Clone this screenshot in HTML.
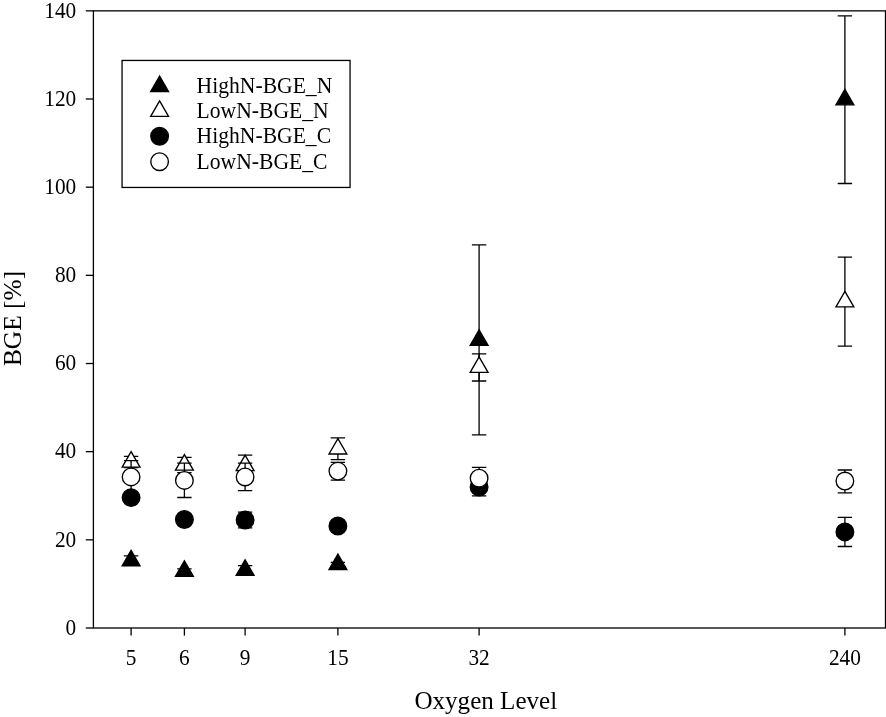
<!DOCTYPE html>
<html lang="en">
<head>
<meta charset="utf-8">
<title>BGE vs Oxygen Level</title>
<style>
html,body{margin:0;padding:0;background:#fff;}
body{width:886px;height:717px;overflow:hidden;font-family:"Liberation Serif",serif;}
svg{display:block;}
</style>
</head>
<body>
<svg width="886" height="717" viewBox="0 0 886 717">
<rect x="0" y="0" width="886" height="717" fill="#fff"/>
<g fill="none" stroke="#000" stroke-width="1.3" stroke-linecap="butt" stroke-linejoin="miter">
<rect x="93.4" y="10.85" width="792.1" height="617.15"/>
<line x1="85.80" y1="628.00" x2="93.4" y2="628.00"/>
<line x1="85.80" y1="539.84" x2="93.4" y2="539.84"/>
<line x1="85.80" y1="451.67" x2="93.4" y2="451.67"/>
<line x1="85.80" y1="363.51" x2="93.4" y2="363.51"/>
<line x1="85.80" y1="275.34" x2="93.4" y2="275.34"/>
<line x1="85.80" y1="187.18" x2="93.4" y2="187.18"/>
<line x1="85.80" y1="99.01" x2="93.4" y2="99.01"/>
<line x1="85.80" y1="10.85" x2="93.4" y2="10.85"/>
<line x1="131.1" y1="628.0" x2="131.1" y2="635.60"/>
<line x1="184.4" y1="628.0" x2="184.4" y2="635.60"/>
<line x1="245.1" y1="628.0" x2="245.1" y2="635.60"/>
<line x1="337.9" y1="628.0" x2="337.9" y2="635.60"/>
<line x1="479.1" y1="628.0" x2="479.1" y2="635.60"/>
<line x1="844.9" y1="628.0" x2="844.9" y2="635.60"/>
</g>
<g fill="none" stroke="#000" stroke-width="1.3" stroke-linejoin="miter">
<path d="M131.10 555.90V565.30M123.90 555.90H138.30M123.90 565.30H138.30"/>
<path d="M184.40 568.80V573.40M177.20 568.80H191.60M177.20 573.40H191.60"/>
<path d="M245.10 565.60V574.60M237.90 565.60H252.30M237.90 574.60H252.30"/>
<path d="M337.90 562.40V566.40M330.70 562.40H345.10M330.70 566.40H345.10"/>
<path d="M479.10 244.90V434.80M471.90 244.90H486.30M471.90 434.80H486.30"/>
<path d="M844.90 15.90V183.50M837.70 15.90H852.10M837.70 183.50H852.10"/>
<path d="M131.10 550.30L140.02 565.75H122.18Z" fill="#000" stroke-width="1.35"/>
<path d="M184.40 560.80L193.32 576.25H175.48Z" fill="#000" stroke-width="1.35"/>
<path d="M245.10 559.80L254.02 575.25H236.18Z" fill="#000" stroke-width="1.35"/>
<path d="M337.90 554.10L346.82 569.55H328.98Z" fill="#000" stroke-width="1.35"/>
<path d="M479.10 329.90L488.02 345.35H470.18Z" fill="#000" stroke-width="1.35"/>
<path d="M844.90 89.40L853.82 104.85H835.98Z" fill="#000" stroke-width="1.35"/>
<path d="M131.10 456.40V467.60M123.90 456.40H138.30M123.90 467.60H138.30"/>
<path d="M184.40 457.40V472.60M177.20 457.40H191.60M177.20 472.60H191.60"/>
<path d="M245.10 455.20V475.80M237.90 455.20H252.30M237.90 475.80H252.30"/>
<path d="M337.90 437.90V459.60M330.70 437.90H345.10M330.70 459.60H345.10"/>
<path d="M479.10 353.95V381.00M471.90 353.95H486.30M471.90 381.00H486.30"/>
<path d="M844.90 257.10V346.20M837.70 257.10H852.10M837.70 346.20H852.10"/>
<path d="M131.10 451.70L140.02 467.15H122.18Z" fill="#fff" stroke-width="1.35"/>
<path d="M184.40 454.70L193.32 470.15H175.48Z" fill="#fff" stroke-width="1.35"/>
<path d="M245.10 455.20L254.02 470.65H236.18Z" fill="#fff" stroke-width="1.35"/>
<path d="M337.90 438.55L346.82 454.00H328.98Z" fill="#fff" stroke-width="1.35"/>
<path d="M479.10 356.90L488.02 372.35H470.18Z" fill="#fff" stroke-width="1.35"/>
<path d="M844.90 291.35L853.82 306.80H835.98Z" fill="#fff" stroke-width="1.35"/>
<path d="M131.10 494.60V500.60M123.90 494.60H138.30M123.90 500.60H138.30"/>
<path d="M184.40 516.50V522.50M177.20 516.50H191.60M177.20 522.50H191.60"/>
<path d="M245.10 512.20V527.90M237.90 512.20H252.30M237.90 527.90H252.30"/>
<path d="M337.90 523.00V529.00M330.70 523.00H345.10M330.70 529.00H345.10"/>
<path d="M479.10 478.00V495.90M471.90 478.00H486.30M471.90 495.90H486.30"/>
<path d="M844.90 517.30V546.50M837.70 517.30H852.10M837.70 546.50H852.10"/>
<circle cx="131.10" cy="497.60" r="8.8" fill="#000" stroke-width="1.35"/>
<circle cx="184.40" cy="519.50" r="8.8" fill="#000" stroke-width="1.35"/>
<circle cx="245.10" cy="520.00" r="8.8" fill="#000" stroke-width="1.35"/>
<circle cx="337.90" cy="526.00" r="8.8" fill="#000" stroke-width="1.35"/>
<circle cx="479.10" cy="487.00" r="8.8" fill="#000" stroke-width="1.35"/>
<circle cx="844.90" cy="531.90" r="8.8" fill="#000" stroke-width="1.35"/>
<path d="M131.10 460.60V493.30M123.90 460.60H138.30M123.90 493.30H138.30"/>
<path d="M184.40 463.20V497.50M177.20 463.20H191.60M177.20 497.50H191.60"/>
<path d="M245.10 463.20V490.70M237.90 463.20H252.30M237.90 490.70H252.30"/>
<path d="M337.90 462.40V480.10M330.70 462.40H345.10M330.70 480.10H345.10"/>
<path d="M479.10 467.30V489.10M471.90 467.30H486.30M471.90 489.10H486.30"/>
<path d="M844.90 470.00V492.80M837.70 470.00H852.10M837.70 492.80H852.10"/>
<circle cx="131.10" cy="476.90" r="8.8" fill="#fff" stroke-width="1.35"/>
<circle cx="184.40" cy="480.40" r="8.8" fill="#fff" stroke-width="1.35"/>
<circle cx="245.10" cy="476.95" r="8.8" fill="#fff" stroke-width="1.35"/>
<circle cx="337.90" cy="471.10" r="8.8" fill="#fff" stroke-width="1.35"/>
<circle cx="479.10" cy="478.20" r="8.8" fill="#fff" stroke-width="1.35"/>
<circle cx="844.90" cy="481.00" r="8.8" fill="#fff" stroke-width="1.35"/>
<rect x="122.05" y="60.45" width="228.0" height="126.99999999999999" fill="#fff"/>
<path d="M159.60 76.10L168.52 91.55H150.68Z" fill="#000" stroke-width="1.35"/>
<path d="M159.60 100.95L168.52 116.40H150.68Z" fill="#fff" stroke-width="1.35"/>
<circle cx="159.60" cy="136.30" r="8.8" fill="#000" stroke-width="1.35"/>
<circle cx="159.60" cy="161.70" r="8.8" fill="#fff" stroke-width="1.35"/>
</g>
<g font-family="'Liberation Serif', serif" fill="#000">
<text transform="translate(196.60 93.20) scale(0.94 1)" font-size="23.0" text-anchor="start">HighN-BGE_N</text>
<text transform="translate(196.60 118.30) scale(0.94 1)" font-size="23.0" text-anchor="start">LowN-BGE_N</text>
<text transform="translate(196.60 143.40) scale(0.94 1)" font-size="23.0" text-anchor="start">HighN-BGE_C</text>
<text transform="translate(196.60 168.50) scale(0.94 1)" font-size="23.0" text-anchor="start">LowN-BGE_C</text>
<text transform="translate(76.20 634.80) scale(0.888 1)" font-size="24.0" text-anchor="end">0</text>
<text transform="translate(76.20 546.64) scale(0.888 1)" font-size="24.0" text-anchor="end">20</text>
<text transform="translate(76.20 458.47) scale(0.888 1)" font-size="24.0" text-anchor="end">40</text>
<text transform="translate(76.20 370.31) scale(0.888 1)" font-size="24.0" text-anchor="end">60</text>
<text transform="translate(76.20 282.14) scale(0.888 1)" font-size="24.0" text-anchor="end">80</text>
<text transform="translate(76.20 193.98) scale(0.888 1)" font-size="24.0" text-anchor="end">100</text>
<text transform="translate(76.20 105.81) scale(0.888 1)" font-size="24.0" text-anchor="end">120</text>
<text transform="translate(76.20 17.65) scale(0.888 1)" font-size="24.0" text-anchor="end">140</text>
<text transform="translate(131.10 665.40) scale(0.888 1)" font-size="24.0" text-anchor="middle">5</text>
<text transform="translate(184.40 665.40) scale(0.888 1)" font-size="24.0" text-anchor="middle">6</text>
<text transform="translate(245.10 665.40) scale(0.888 1)" font-size="24.0" text-anchor="middle">9</text>
<text transform="translate(337.90 665.40) scale(0.888 1)" font-size="24.0" text-anchor="middle">15</text>
<text transform="translate(479.10 665.40) scale(0.888 1)" font-size="24.0" text-anchor="middle">32</text>
<text transform="translate(844.90 665.40) scale(0.888 1)" font-size="24.0" text-anchor="middle">240</text>
</g>
<g font-family="'Liberation Serif', serif" fill="#000" font-size="25.1">
<text x="485.8" y="708.8" text-anchor="middle">Oxygen Level</text>
<text transform="translate(21.4 318.5) rotate(-90)" text-anchor="middle" font-size="25.4">BGE [%]</text>
</g>
</svg>
</body>
</html>
